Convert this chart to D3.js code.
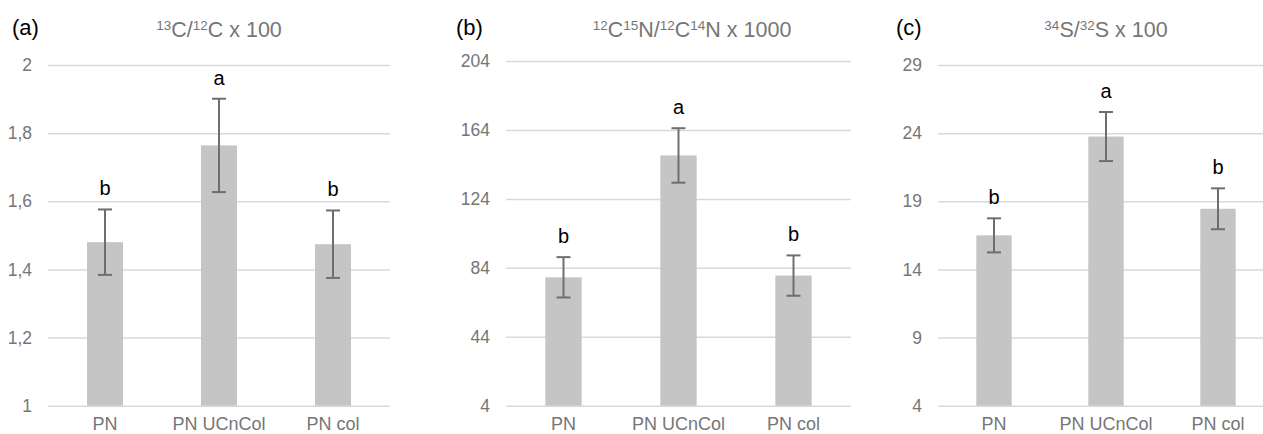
<!DOCTYPE html>
<head>
</head>
<style>
  body {
    margin: 0;
    font-family: 'Liberation Sans', Arial, sans-serif;
    background: #fff;
  }
  .axis .domain {
    display: none;
  }
  .grid line {
    stroke: #d9d9d9;
    stroke-width: 1.5;
  }
  .grid text, .xaxis text {
    fill: #767676;
    font-family: 'Liberation Sans', Arial, sans-serif;
  }
  .grid text { font-size: 17.5px; }
  .xaxis text { font-size: 18px; }
</style>
<svg width="1263" height="434"></svg>
<script src="https://cdn.jsdelivr.net/npm/d3@7"></script>
<script>
var categories = ["PN", "PN UCnCol", "PN col"];
var letters = ["b", "a", "b"];

var c13Means = [1.48, 1.764, 1.474];
var c13Err = [0.096, 0.137, 0.099];
var c13Ticks = [1, 1.2, 1.4, 1.6, 1.8, 2];

var n15Means = [78.5, 149.2, 79.5];
var n15Err = [11.7, 15.8, 11.7];
var n15Ticks = [4, 44, 84, 124, 164, 204];

var s34Means = [16.5, 23.75, 18.45];
var s34Err = [1.25, 1.8, 1.5];
var s34Ticks = [4, 9, 14, 19, 24, 29];

// panel layouts (pixel boxes of each plot area)
var panels = [
  {tag: "(a)", title: [["13", true], ["C/", false], ["12", true], ["C x 100", false]],
   means: c13Means, err: c13Err, ticks: c13Ticks,
   x0: 48, x1: 390, top: 65, bottom: 405.7, tagX: 12, titleX: 219},
  {tag: "(b)", title: [["12", true], ["C", false], ["15", true], ["N/", false], ["12", true], ["C", false], ["14", true], ["N x 1000", false]],
   means: n15Means, err: n15Err, ticks: n15Ticks,
   x0: 506, x1: 851, top: 61, bottom: 405.7, tagX: 456, titleX: 692},
  {tag: "(c)", title: [["34", true], ["S/", false], ["32", true], ["S x 100", false]],
   means: s34Means, err: s34Err, ticks: s34Ticks,
   x0: 938, x1: 1274, top: 65, bottom: 405.7, tagX: 896, titleX: 1106}
];

var svg = d3.select("svg");

panels.forEach(function(p) {
  var g = svg.append("g");

  var x = d3.scaleBand()
      .domain(categories)
      .range([p.x0, p.x1])
      .paddingInner(0.684)
      .paddingOuter(0.342);

  var y = d3.scaleLinear()
      .domain([p.ticks[0], p.ticks[p.ticks.length - 1]])
      .range([p.bottom, p.top]);

  var fmt = function(d) { return String(d).replace(".", ","); };

  g.append("g")
      .attr("class", "axis grid")
      .attr("transform", "translate(" + p.x0 + ",0)")
      .call(d3.axisLeft(y).tickValues(p.ticks).tickFormat(fmt)
        .tickSize(-(Math.min(p.x1, 1263) - p.x0)).tickPadding(16));

  g.append("g")
      .attr("class", "axis xaxis")
      .attr("transform", "translate(0," + p.bottom + ")")
      .call(d3.axisBottom(x).tickSize(0).tickPadding(12));

  var data = categories.map(function(c, i) {
    return {cat: c, mean: p.means[i], err: p.err[i], letter: letters[i]};
  });

  g.selectAll(".bar")
    .data(data)
    .enter().append("rect")
      .attr("class", "bar")
      .attr("x", function(d) { return x(d.cat); })
      .attr("width", x.bandwidth())
      .attr("y", function(d) { return y(d.mean); })
      .attr("height", function(d) { return y(p.ticks[0]) - y(d.mean); })
      .attr("fill", "#c4c5c4");

  var eb = g.selectAll(".err")
    .data(data)
    .enter().append("g")
      .attr("class", "err")
      .attr("stroke", "#6e6e6e")
      .attr("stroke-width", 2);

  var cx = function(d) { return x(d.cat) + x.bandwidth() / 2; };

  eb.append("line")
      .attr("x1", cx).attr("x2", cx)
      .attr("y1", function(d) { return y(d.mean + d.err); })
      .attr("y2", function(d) { return y(d.mean - d.err); });
  eb.append("line")
      .attr("x1", function(d) { return cx(d) - 7; })
      .attr("x2", function(d) { return cx(d) + 7; })
      .attr("y1", function(d) { return y(d.mean + d.err); })
      .attr("y2", function(d) { return y(d.mean + d.err); });
  eb.append("line")
      .attr("x1", function(d) { return cx(d) - 7; })
      .attr("x2", function(d) { return cx(d) + 7; })
      .attr("y1", function(d) { return y(d.mean - d.err); })
      .attr("y2", function(d) { return y(d.mean - d.err); });

  g.selectAll(".letter")
    .data(data)
    .enter().append("text")
      .attr("class", "letter")
      .attr("x", cx)
      .attr("y", function(d) { return y(d.mean + d.err) - 14; })
      .attr("text-anchor", "middle")
      .attr("font-size", 20)
      .attr("fill", "#000")
      .text(function(d) { return d.letter; });

  g.append("text")
      .attr("x", p.tagX)
      .attr("y", 35)
      .attr("font-size", 22)
      .attr("fill", "#000")
      .text(p.tag);

  var t = g.append("text")
      .attr("x", p.titleX)
      .attr("y", 37)
      .attr("text-anchor", "middle")
      .attr("font-size", 21.5)
      .attr("fill", "#767676");
  p.title.forEach(function(part) {
    t.append("tspan")
      .attr("font-size", part[1] ? 13.5 : 21.5)
      .attr("baseline-shift", part[1] ? "7" : null)
      .text(part[0]);
  });
});
</script>
